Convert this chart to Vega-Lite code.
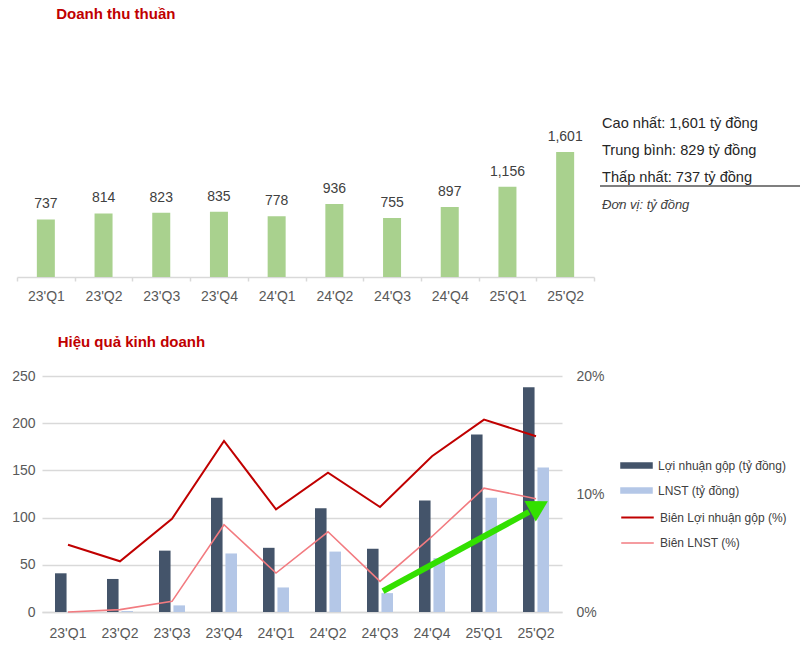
{
  "$schema": "https://vega.github.io/schema/vega-lite/v6.json",
  "padding": {"left": 11, "top": 7, "right": 0, "bottom": 0},
  "background": "white",
  "config": {"view": {"stroke": null}, "font": "Liberation Sans"},
  "datasets": {
    "revenue": [
      {"q": "23'Q1", "revenue": 737},
      {"q": "23'Q2", "revenue": 814},
      {"q": "23'Q3", "revenue": 823},
      {"q": "23'Q4", "revenue": 835},
      {"q": "24'Q1", "revenue": 778},
      {"q": "24'Q2", "revenue": 936},
      {"q": "24'Q3", "revenue": 755},
      {"q": "24'Q4", "revenue": 897},
      {"q": "25'Q1", "revenue": 1156},
      {"q": "25'Q2", "revenue": 1601}
    ],
    "stats": [
      {"label": "Cao nhất: 1,601 tỷ đồng", "kind": "stat"},
      {"label": "Trung bình: 829 tỷ đồng", "kind": "stat"},
      {"label": "Thấp nhất: 737 tỷ đồng", "kind": "stat"},
      {"label": "Đơn vị: tỷ đồng", "kind": "unit"}
    ],
    "bars": [
      {"q": "23'Q1", "series": "Lợi nhuận gộp (tỷ đồng)", "value": 41},
      {"q": "23'Q2", "series": "Lợi nhuận gộp (tỷ đồng)", "value": 35},
      {"q": "23'Q3", "series": "Lợi nhuận gộp (tỷ đồng)", "value": 65},
      {"q": "23'Q4", "series": "Lợi nhuận gộp (tỷ đồng)", "value": 121},
      {"q": "24'Q1", "series": "Lợi nhuận gộp (tỷ đồng)", "value": 68},
      {"q": "24'Q2", "series": "Lợi nhuận gộp (tỷ đồng)", "value": 110},
      {"q": "24'Q3", "series": "Lợi nhuận gộp (tỷ đồng)", "value": 67},
      {"q": "24'Q4", "series": "Lợi nhuận gộp (tỷ đồng)", "value": 118},
      {"q": "25'Q1", "series": "Lợi nhuận gộp (tỷ đồng)", "value": 188},
      {"q": "25'Q2", "series": "Lợi nhuận gộp (tỷ đồng)", "value": 238},
      {"q": "23'Q1", "series": "LNST (tỷ đồng)", "value": 0},
      {"q": "23'Q2", "series": "LNST (tỷ đồng)", "value": 1},
      {"q": "23'Q3", "series": "LNST (tỷ đồng)", "value": 7},
      {"q": "23'Q4", "series": "LNST (tỷ đồng)", "value": 62},
      {"q": "24'Q1", "series": "LNST (tỷ đồng)", "value": 26},
      {"q": "24'Q2", "series": "LNST (tỷ đồng)", "value": 64},
      {"q": "24'Q3", "series": "LNST (tỷ đồng)", "value": 20},
      {"q": "24'Q4", "series": "LNST (tỷ đồng)", "value": 57},
      {"q": "25'Q1", "series": "LNST (tỷ đồng)", "value": 121},
      {"q": "25'Q2", "series": "LNST (tỷ đồng)", "value": 153}
    ],
    "margins": [
      {"q": "23'Q1", "series": "Biên Lợi nhuận gộp (%)", "pct": 0.057},
      {"q": "23'Q2", "series": "Biên Lợi nhuận gộp (%)", "pct": 0.043},
      {"q": "23'Q3", "series": "Biên Lợi nhuận gộp (%)", "pct": 0.079},
      {"q": "23'Q4", "series": "Biên Lợi nhuận gộp (%)", "pct": 0.145},
      {"q": "24'Q1", "series": "Biên Lợi nhuận gộp (%)", "pct": 0.087},
      {"q": "24'Q2", "series": "Biên Lợi nhuận gộp (%)", "pct": 0.118},
      {"q": "24'Q3", "series": "Biên Lợi nhuận gộp (%)", "pct": 0.089},
      {"q": "24'Q4", "series": "Biên Lợi nhuận gộp (%)", "pct": 0.132},
      {"q": "25'Q1", "series": "Biên Lợi nhuận gộp (%)", "pct": 0.163},
      {"q": "25'Q2", "series": "Biên Lợi nhuận gộp (%)", "pct": 0.149},
      {"q": "23'Q1", "series": "Biên LNST (%)", "pct": 0.0},
      {"q": "23'Q2", "series": "Biên LNST (%)", "pct": 0.002},
      {"q": "23'Q3", "series": "Biên LNST (%)", "pct": 0.009},
      {"q": "23'Q4", "series": "Biên LNST (%)", "pct": 0.074},
      {"q": "24'Q1", "series": "Biên LNST (%)", "pct": 0.033},
      {"q": "24'Q2", "series": "Biên LNST (%)", "pct": 0.068},
      {"q": "24'Q3", "series": "Biên LNST (%)", "pct": 0.026},
      {"q": "24'Q4", "series": "Biên LNST (%)", "pct": 0.064},
      {"q": "25'Q1", "series": "Biên LNST (%)", "pct": 0.105},
      {"q": "25'Q2", "series": "Biên LNST (%)", "pct": 0.096}
    ],
    "arrow": [
      {"from": "24'Q3", "to": "25'Q2", "y1": 22, "y2": 106, "head": 112}
    ]
  },
  "columns": 1,
  "align": "none",
  "spacing": 32,
  "concat": [
    {
      "title": {"text": "Doanh thu thuần", "anchor": "start", "dx": 40, "color": "#C00000", "fontSize": 15, "fontWeight": "bold", "offset": 18},
      "spacing": -20,
      "hconcat": [
        {
          "width": 552,
          "height": 237,
          "data": {"name": "revenue"},
          "encoding": {
            "x": {"field": "q", "type": "nominal", "sort": null,
              "scale": {"paddingInner": 0, "paddingOuter": 0, "range": [-25, 552]},
              "axis": {"title": null, "labelAngle": 0, "tickBand": "extent", "grid": false, "domainColor": "#D9D9D9", "domainWidth": 1.5, "tickColor": "#D9D9D9", "tickWidth": 1.5, "tickSize": 4, "labelPadding": 8, "labelFontSize": 14, "labelColor": "#595959"}},
            "y": {"field": "revenue", "type": "quantitative", "scale": {"domain": [0, 3035]}, "axis": null}
          },
          "layer": [
            {"mark": {"type": "bar", "color": "#A9D18E", "width": {"band": 0.312}}},
            {"mark": {"type": "text", "baseline": "alphabetic", "dy": -11, "fontSize": 14, "color": "#404040"},
              "encoding": {"text": {"field": "revenue", "type": "quantitative", "format": ","}}}
          ]
        },
        {
          "width": 200,
          "height": 237,
          "data": {"name": "stats"},
          "layer": [
            {
              "transform": [{"filter": "datum.kind == 'stat'"}],
              "mark": {"type": "text", "align": "left", "baseline": "middle", "fontSize": 14.6, "color": "#262626", "dx": 2},
              "encoding": {
                "x": {"datum": 0, "type": "quantitative", "scale": {"domain": [0, 1], "range": [-19, 181]}, "axis": null},
                "y": {"field": "label", "type": "ordinal", "scale": {"type": "point", "domain": ["Cao nhất: 1,601 tỷ đồng", "Trung bình: 829 tỷ đồng", "Thấp nhất: 737 tỷ đồng", "Đơn vị: tỷ đồng"], "range": [84, 165], "padding": 0}, "axis": null},
                "text": {"field": "label"}
              }
            },
            {
              "transform": [{"filter": "datum.kind == 'unit'"}],
              "mark": {"type": "text", "align": "left", "baseline": "middle", "fontSize": 13, "fontStyle": "italic", "color": "#404040", "dx": 2},
              "encoding": {
                "x": {"datum": 0, "type": "quantitative", "scale": {"domain": [0, 1], "range": [-19, 181]}, "axis": null},
                "y": {"field": "label", "type": "ordinal", "scale": {"type": "point", "domain": ["Cao nhất: 1,601 tỷ đồng", "Trung bình: 829 tỷ đồng", "Thấp nhất: 737 tỷ đồng", "Đơn vị: tỷ đồng"], "range": [84, 165], "padding": 0}, "axis": null},
                "text": {"field": "label"}
              }
            },
            {
              "transform": [{"filter": "datum.kind == 'unit'"}],
              "mark": {"type": "rule", "color": "#7F7F7F", "strokeWidth": 2, "yOffset": -19},
              "encoding": {
                "x": {"datum": 0, "type": "quantitative", "scale": {"domain": [0, 1], "range": [-19, 181]}, "axis": null},
                "x2": {"datum": 1},
                "y": {"field": "label", "type": "ordinal", "scale": {"type": "point", "domain": ["Cao nhất: 1,601 tỷ đồng", "Trung bình: 829 tỷ đồng", "Thấp nhất: 737 tỷ đồng", "Đơn vị: tỷ đồng"], "range": [84, 165], "padding": 0}, "axis": null}
              }
            }
          ]
        }
      ]
    },
    {
      "width": 520,
      "height": 236,
      "title": {"text": "Hiệu quả kinh doanh", "anchor": "start", "dx": 46, "color": "#C00000", "fontSize": 15, "fontWeight": "bold", "offset": 19},
      "layer": [
        {
          "data": {"name": "bars"},
          "mark": {"type": "bar"},
          "encoding": {
            "x": {"field": "q", "type": "nominal",
              "scale": {"domain": ["23'Q1", "23'Q2", "23'Q3", "23'Q4", "24'Q1", "24'Q2", "24'Q3", "24'Q4", "25'Q1", "25'Q2"], "paddingInner": 0, "paddingOuter": 0},
              "axis": {"title": null, "labelAngle": 0, "ticks": false, "domain": true, "domainColor": "#D9D9D9", "domainWidth": 1.5, "grid": false, "labelPadding": 14, "labelFontSize": 14, "labelColor": "#595959"}},
            "xOffset": {"field": "series", "type": "nominal", "scale": {"domain": ["Lợi nhuận gộp (tỷ đồng)", "LNST (tỷ đồng)"], "paddingInner": 0.2, "paddingOuter": 0.9}},
            "y": {"field": "value", "type": "quantitative", "scale": {"domain": [0, 250]},
              "axis": {"orient": "left", "title": null, "values": [0, 50, 100, 150, 200, 250], "grid": true, "gridColor": "#D9D9D9", "gridWidth": 1.5, "domain": false, "ticks": false, "labelPadding": 7, "labelFontSize": 14, "labelColor": "#595959"}},
            "color": {"field": "series", "type": "nominal",
              "scale": {"domain": ["Lợi nhuận gộp (tỷ đồng)", "LNST (tỷ đồng)"], "range": ["#44546A", "#B4C7E7"]},
              "legend": {"title": null, "orient": "none", "legendX": 587, "legendY": 82, "padding": 0, "symbolType": "M-2.3,-0.45H2.3V0.45H-2.3Z", "symbolSize": 200, "symbolStrokeWidth": 0, "labelOffset": 14, "rowPadding": 11, "labelFontSize": 12, "labelColor": "#404040"}}
          }
        },
        {
          "data": {"name": "margins"},
          "mark": {"type": "line"},
          "encoding": {
            "x": {"field": "q", "type": "nominal", "scale": {"domain": ["23'Q1", "23'Q2", "23'Q3", "23'Q4", "24'Q1", "24'Q2", "24'Q3", "24'Q4", "25'Q1", "25'Q2"]}},
            "y": {"field": "pct", "type": "quantitative", "scale": {"domain": [0, 0.2]},
              "axis": {"orient": "right", "title": null, "values": [0, 0.1, 0.2], "format": ".0%", "grid": false, "domain": false, "ticks": false, "labelPadding": 14, "labelFontSize": 14, "labelColor": "#595959"}},
            "color": {"field": "series", "type": "nominal",
              "scale": {"domain": ["Biên Lợi nhuận gộp (%)", "Biên LNST (%)"], "range": ["#C00000", "#F27B80"]},
              "legend": {"title": null, "orient": "none", "legendX": 587, "legendY": 133, "padding": 0, "symbolType": "M-2.3,0H2.3", "symbolSize": 200, "symbolStrokeWidth": 2, "labelOffset": 14, "rowPadding": 11, "labelFontSize": 12, "labelColor": "#404040"}},
            "strokeWidth": {"field": "series", "type": "nominal", "scale": {"domain": ["Biên Lợi nhuận gộp (%)", "Biên LNST (%)"], "range": [2, 1.6]}, "legend": null}
          }
        },
        {
          "data": {"name": "arrow"},
          "mark": {"type": "rule", "color": "#33E000", "strokeWidth": 6, "xOffset": 3, "x2Offset": -7},
          "encoding": {
            "x": {"field": "from", "type": "nominal", "scale": {"domain": ["23'Q1", "23'Q2", "23'Q3", "23'Q4", "24'Q1", "24'Q2", "24'Q3", "24'Q4", "25'Q1", "25'Q2"]}},
            "x2": {"field": "to"},
            "y": {"field": "y1", "type": "quantitative", "scale": {"domain": [0, 250]}, "axis": null},
            "y2": {"field": "y2"}
          }
        },
        {
          "data": {"name": "arrow"},
          "mark": {"type": "point", "shape": "triangle-up", "filled": true, "color": "#33E000", "opacity": 1, "size": 550, "angle": 61, "xOffset": 3},
          "encoding": {
            "x": {"field": "to", "type": "nominal", "scale": {"domain": ["23'Q1", "23'Q2", "23'Q3", "23'Q4", "24'Q1", "24'Q2", "24'Q3", "24'Q4", "25'Q1", "25'Q2"]}},
            "y": {"field": "head", "type": "quantitative", "scale": {"domain": [0, 250]}, "axis": null}
          }
        }
      ],
      "resolve": {"scale": {"y": "independent", "color": "independent", "strokeWidth": "independent"}}
    }
  ]
}
